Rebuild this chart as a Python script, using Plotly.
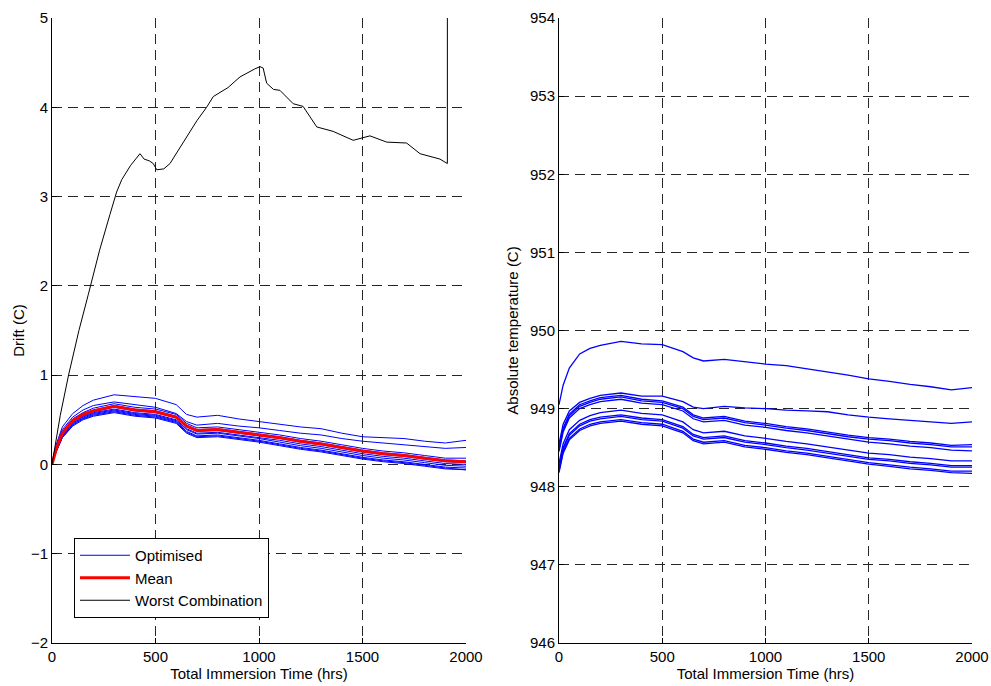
import plotly.graph_objects as go

# Common time grid (hrs)
time_hrs = [0, 20, 50, 100, 150, 200, 300, 400, 500, 600, 650, 700, 800, 900, 1000,
            1100, 1200, 1300, 1400, 1500, 1600, 1700, 1800, 1900, 2000]

# Left panel: drift of optimised combinations (C)
drift_opt = [
    [0, 0.22, 0.42, 0.57, 0.66, 0.72, 0.78, 0.76, 0.74, 0.67, 0.56, 0.53, 0.55, 0.51, 0.48, 0.45, 0.42, 0.40, 0.35, 0.31, 0.30, 0.29, 0.26, 0.24, 0.27],
    [0, 0.20, 0.39, 0.53, 0.61, 0.66, 0.70, 0.67, 0.64, 0.57, 0.48, 0.44, 0.46, 0.43, 0.41, 0.38, 0.35, 0.33, 0.29, 0.26, 0.24, 0.22, 0.20, 0.18, 0.19],
    [0, 0.18, 0.37, 0.51, 0.58, 0.63, 0.68, 0.64, 0.62, 0.56, 0.46, 0.41, 0.42, 0.39, 0.36, 0.33, 0.29, 0.26, 0.22, 0.18, 0.15, 0.13, 0.10, 0.07, 0.07],
    [0, 0.17, 0.36, 0.50, 0.57, 0.61, 0.66, 0.62, 0.60, 0.54, 0.44, 0.39, 0.40, 0.37, 0.34, 0.31, 0.27, 0.24, 0.20, 0.16, 0.13, 0.11, 0.08, 0.05, 0.04],
    [0, 0.16, 0.34, 0.48, 0.55, 0.59, 0.64, 0.60, 0.58, 0.52, 0.42, 0.37, 0.38, 0.35, 0.32, 0.29, 0.25, 0.22, 0.18, 0.14, 0.11, 0.09, 0.06, 0.03, 0.02],
    [0, 0.16, 0.33, 0.47, 0.54, 0.58, 0.62, 0.58, 0.56, 0.50, 0.40, 0.35, 0.36, 0.33, 0.30, 0.27, 0.23, 0.20, 0.16, 0.12, 0.09, 0.07, 0.04, 0.01, 0.00],
    [0, 0.15, 0.32, 0.46, 0.53, 0.57, 0.61, 0.57, 0.55, 0.49, 0.39, 0.34, 0.35, 0.32, 0.29, 0.25, 0.21, 0.18, 0.14, 0.10, 0.07, 0.05, 0.02, -0.01, -0.02],
    [0, 0.15, 0.31, 0.45, 0.52, 0.56, 0.60, 0.56, 0.54, 0.48, 0.37, 0.32, 0.33, 0.30, 0.27, 0.23, 0.19, 0.16, 0.12, 0.08, 0.05, 0.03, 0.00, -0.03, -0.04],
    [0, 0.14, 0.30, 0.44, 0.51, 0.55, 0.59, 0.55, 0.53, 0.47, 0.36, 0.31, 0.32, 0.29, 0.26, 0.22, 0.18, 0.15, 0.11, 0.07, 0.04, 0.02, -0.01, -0.04, -0.06],
    [0, 0.14, 0.30, 0.43, 0.50, 0.54, 0.58, 0.54, 0.52, 0.46, 0.35, 0.30, 0.31, 0.28, 0.25, 0.21, 0.17, 0.14, 0.10, 0.06, 0.03, 0.01, -0.02, -0.05, -0.06],
]
drift_mean = [0, 0.17, 0.35, 0.49, 0.56, 0.60, 0.65, 0.61, 0.59, 0.53, 0.43, 0.38, 0.39, 0.36, 0.33, 0.30, 0.26, 0.23, 0.19, 0.15, 0.12, 0.10, 0.07, 0.04, 0.03]

# Worst combination drift
worst_time = [0, 40, 80, 130, 175, 230, 280, 312, 337, 380, 425, 445, 470, 489, 506, 540, 570, 634, 700, 747, 779,
              850, 908, 980, 1005, 1020, 1037, 1070, 1101, 1165, 1213, 1279, 1358, 1455, 1536, 1617, 1713, 1778, 1874, 1910, 1910]
worst_drift = [0, 0.55, 1.0, 1.5, 1.9, 2.4, 2.8, 3.05, 3.19, 3.35, 3.48, 3.42, 3.40, 3.37, 3.30, 3.31, 3.37, 3.60, 3.85, 4.0, 4.12,
               4.22, 4.34, 4.43, 4.455, 4.44, 4.27, 4.20, 4.19, 4.04, 4.01, 3.78, 3.73, 3.63, 3.68, 3.61, 3.60, 3.48, 3.42, 3.37, 5.0]

# Right panel: absolute temperature (C)
abs_temp = [
    [949.05, 949.30, 949.52, 949.70, 949.77, 949.81, 949.86, 949.83, 949.82, 949.73, 949.65, 949.61, 949.63, 949.60, 949.57, 949.55, 949.51, 949.47, 949.43, 949.38, 949.35, 949.31, 949.28, 949.24, 949.27],
    [948.55, 948.80, 948.97, 949.08, 949.13, 949.17, 949.20, 949.16, 949.16, 949.09, 949.02, 949.00, 949.03, 949.01, 949.00, 948.98, 948.97, 948.96, 948.92, 948.89, 948.87, 948.85, 948.83, 948.81, 948.83],
    [948.50, 948.75, 948.93, 949.05, 949.10, 949.14, 949.17, 949.12, 949.10, 949.02, 948.92, 948.88, 948.90, 948.84, 948.81, 948.77, 948.74, 948.70, 948.66, 948.63, 948.61, 948.58, 948.56, 948.53, 948.54],
    [948.48, 948.73, 948.91, 949.03, 949.08, 949.12, 949.15, 949.10, 949.08, 949.00, 948.90, 948.86, 948.88, 948.82, 948.79, 948.75, 948.72, 948.68, 948.64, 948.61, 948.59, 948.56, 948.54, 948.51, 948.51],
    [948.45, 948.70, 948.88, 949.00, 949.05, 949.09, 949.12, 949.07, 949.05, 948.97, 948.87, 948.83, 948.85, 948.79, 948.76, 948.72, 948.69, 948.65, 948.61, 948.57, 948.55, 948.52, 948.50, 948.47, 948.46],
    [948.30, 948.55, 948.73, 948.85, 948.91, 948.95, 948.98, 948.94, 948.92, 948.83, 948.73, 948.69, 948.71, 948.65, 948.62, 948.58, 948.55, 948.51, 948.47, 948.43, 948.41, 948.38, 948.36, 948.33, 948.33],
    [948.25, 948.50, 948.68, 948.80, 948.86, 948.89, 948.92, 948.88, 948.86, 948.77, 948.67, 948.63, 948.65, 948.59, 948.56, 948.52, 948.49, 948.45, 948.41, 948.37, 948.35, 948.32, 948.30, 948.27, 948.27],
    [948.23, 948.48, 948.66, 948.78, 948.84, 948.87, 948.90, 948.86, 948.84, 948.75, 948.65, 948.61, 948.63, 948.57, 948.54, 948.50, 948.47, 948.43, 948.39, 948.35, 948.33, 948.30, 948.28, 948.25, 948.25],
    [948.20, 948.45, 948.62, 948.74, 948.80, 948.83, 948.86, 948.82, 948.80, 948.71, 948.61, 948.57, 948.59, 948.53, 948.50, 948.46, 948.43, 948.39, 948.35, 948.31, 948.28, 948.25, 948.23, 948.20, 948.20],
    [948.18, 948.43, 948.60, 948.72, 948.78, 948.81, 948.84, 948.80, 948.78, 948.69, 948.59, 948.55, 948.57, 948.51, 948.48, 948.44, 948.41, 948.37, 948.33, 948.29, 948.26, 948.23, 948.21, 948.18, 948.17],
]

x_ticks = [0, 500, 1000, 1500, 2000]
left_y_ticks = [-2, -1, 0, 1, 2, 3, 4, 5]
right_y_ticks = [946, 947, 948, 949, 950, 951, 952, 953, 954]

BLUE = "#0000ff"
FONT = "Liberation Sans, Arial, Helvetica, sans-serif"
FS = 15
fig = go.Figure()

for i, ys in enumerate(drift_opt):
    fig.add_trace(go.Scatter(x=time_hrs, y=ys, mode="lines", line=dict(color=BLUE, width=1),
                             name="Optimised", showlegend=(i == 0), xaxis="x", yaxis="y", legendrank=1))
fig.add_trace(go.Scatter(x=time_hrs, y=drift_mean, mode="lines", line=dict(color="#ff0000", width=3),
                         name="Mean", xaxis="x", yaxis="y", legendrank=2))
fig.add_trace(go.Scatter(x=worst_time, y=worst_drift, mode="lines", line=dict(color="#000000", width=1),
                         name="Worst Combination", xaxis="x", yaxis="y", legendrank=3))

for ys in abs_temp:
    fig.add_trace(go.Scatter(x=time_hrs, y=ys, mode="lines", line=dict(color=BLUE, width=1.3),
                             showlegend=False, xaxis="x2", yaxis="y2"))

W, H = 991, 686
ydom = [(H - 643) / H, (H - 18) / H]

axis_common = dict(
    showgrid=True, griddash="10px,6px", gridcolor="#262626", gridwidth=1,
    zeroline=False, showline=True, linecolor="#000000", linewidth=1,
    ticks="inside", ticklen=5, tickcolor="#000000",
    tickfont=dict(family=FONT, size=FS, color="#000000"),
    mirror=False, automargin=False,
)
title_font = dict(family=FONT, size=FS, color="#000000")

fig.update_layout(
    width=W, height=H,
    margin=dict(l=0, r=0, t=0, b=0),
    paper_bgcolor="white", plot_bgcolor="white",
    font=dict(family=FONT, size=FS, color="#000000"),
    xaxis=dict(domain=[52 / W, 466 / W], range=[0, 2000], tickvals=x_ticks, anchor="y",
               title=dict(text="Total Immersion Time (hrs)", font=title_font, standoff=1), **axis_common),
    yaxis=dict(domain=ydom, range=[-2, 5], tickvals=left_y_ticks, anchor="x",
               title=dict(text="Drift (C)", font=title_font, standoff=2), **axis_common),
    xaxis2=dict(domain=[559 / W, 972 / W], range=[0, 2000], tickvals=x_ticks, anchor="y2",
                title=dict(text="Total Immersion Time (hrs)", font=title_font, standoff=1), **axis_common),
    yaxis2=dict(domain=ydom, range=[946, 954], tickvals=right_y_ticks, anchor="x2",
                title=dict(text="Absolute temperature (C)", font=title_font, standoff=7), **axis_common),
    legend=dict(x=74 / W, y=(H - 538) / H, xanchor="left", yanchor="top",
                bgcolor="white", bordercolor="#000000", borderwidth=1,
                font=dict(family=FONT, size=FS, color="#000000"),
                tracegroupgap=0, itemwidth=50),
)

fig.write_html("out.html")
